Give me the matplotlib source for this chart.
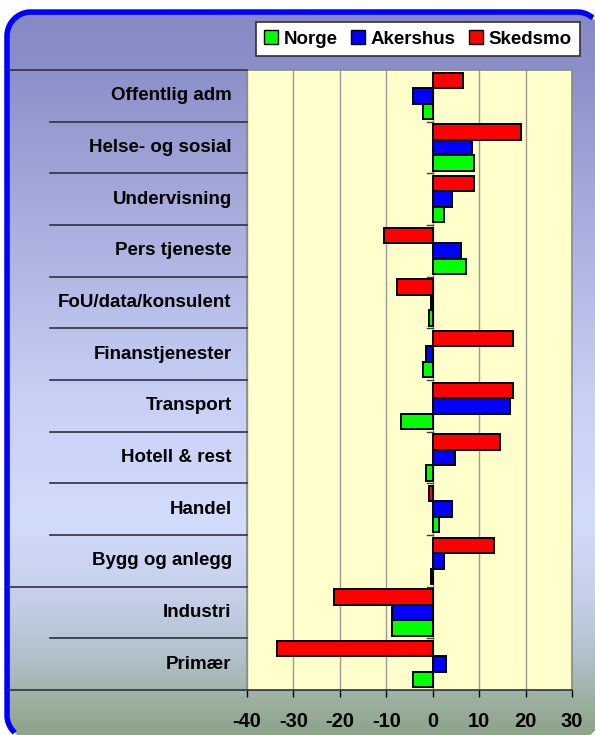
import numpy as np
import matplotlib
matplotlib.use("Agg")
import matplotlib.pyplot as plt
from matplotlib.patches import Patch
from matplotlib.lines import Line2D
from matplotlib.transforms import blended_transform_factory

# ---- data (top to bottom in chart) ----
categories = ["Offentlig adm", "Helse- og sosial", "Undervisning", "Pers tjeneste",
              "FoU/data/konsulent", "Finanstjenester", "Transport", "Hotell & rest",
              "Handel", "Bygg og anlegg", "Industri", "Primær"]
norge    = [-2.2, 8.8, 2.4, 7.1, -0.7, -2.2, -6.8, -1.4, 1.4, -0.4, -8.8, -4.2]
akershus = [-4.2, 8.5, 4.2, 6.0, -0.3, -1.4, 16.6, 4.9, 4.2, 2.4, -8.8, 2.8]
skedsmo  = [6.6, 19.0, 8.8, -10.6, -7.8, 17.2, 17.2, 14.4, -0.7, 13.1, -21.2, -33.6]
series_names = ["Norge", "Akershus", "Skedsmo"]
series_colors = ["#00FF00", "#0000FF", "#FF0000"]
x_ticks = [-40, -30, -20, -10, 0, 10, 20, 30]

plt.rcParams['font.family'] = ['Liberation Sans', 'DejaVu Sans']
plt.rcParams['font.weight'] = 'bold'

W, H = 595, 735
fig = plt.figure(figsize=(W / 100, H / 100), dpi=100)
fig.patch.set_facecolor("white")

# ---- background axes in pixel coordinates (y down) ----
bg = fig.add_axes([0, 0, 1, 1])
bg.axis("off")

stops_y = [0, 15, 70, 200, 400, 520, 600, 660, 700, 735]
stops_c = [(134, 137, 196), (134, 137, 196), (140, 144, 201), (165, 170, 219),
           (200, 208, 245), (210, 220, 252), (196, 207, 232), (176, 192, 200),
           (156, 176, 160), (140, 164, 136)]
ys = np.arange(H) + 0.5
xs = np.arange(W) + 0.5
grad = np.ones((H, W, 4))
for k in range(3):
    grad[:, :, k] = (np.interp(ys, stops_y, [c[k] for c in stops_c]) / 255.0)[:, None]

# rounded frame geometry (pixels); right and bottom edges lie just past the image
L, T, Rr, B, R = 7, 12, 601, 739, 24
X, Y = np.meshgrid(xs, ys)
cx = np.clip(X, L + R, Rr - R)
cy = np.clip(Y, T + R, B - R)
inside = (X >= L) & (X <= Rr) & (Y >= T) & (Y <= B) & ((X - cx) ** 2 + (Y - cy) ** 2 <= R ** 2)
grad[:, :, 3] = inside.astype(float)
bg.imshow(grad, extent=[0, W, H, 0], aspect="auto", zorder=1, interpolation="nearest")

def arc(cxx, cyy, t0, t1):
    t = np.radians(np.linspace(t0, t1, 60))
    return cxx + R * np.cos(t), cyy - R * np.sin(t)

parts = [arc(Rr - R, T + R, 0, 90), arc(L + R, T + R, 90, 180),
         arc(L + R, B - R, 180, 270), arc(Rr - R, B - R, 270, 360)]
px = np.concatenate([p[0] for p in parts])
py = np.concatenate([p[1] for p in parts])
out = (px > W - 2) | (py > H - 2)
px = np.where(out, np.nan, px)
py = np.where(out, np.nan, py)
bg.plot(px, py, color="#0000FF", linewidth=4, zorder=2, solid_joinstyle="round",
        solid_capstyle="butt")
bg.set_xlim(0, W)
bg.set_ylim(H, 0)

# ---- main axes ----
left, right, top, bottom = 247, 572, 70, 690
ax = fig.add_axes([left / W, 1 - bottom / H, (right - left) / W, (bottom - top) / H])
ax.set_facecolor("#FFFFCC")

n = len(categories)
pos = np.arange(n)[::-1]  # top category at highest y
bh = 0.30
ax.barh(pos - bh, norge, height=bh, color=series_colors[0], edgecolor="black", linewidth=1.4, zorder=3)
ax.barh(pos, akershus, height=bh, color=series_colors[1], edgecolor="black", linewidth=1.4, zorder=3)
ax.barh(pos + bh, skedsmo, height=bh, color=series_colors[2], edgecolor="black", linewidth=1.4, zorder=3)

ax.set_xlim(-40, 30)
ax.set_ylim(-0.5, n - 0.5)
ax.set_xticks(x_ticks)
ax.set_xticklabels([str(t) for t in x_ticks], fontsize=14.5, fontweight="bold")
ax.tick_params(axis="x", direction="out", length=5, width=1, color="black", pad=11)
ax.set_yticks(pos)
ax.set_yticklabels(categories, fontsize=13.5, fontweight="bold", va="center")
ax.tick_params(axis="y", length=0, pad=11)
ax.xaxis.grid(True, color="#9A9A9A", linewidth=1)
ax.set_axisbelow(True)
for s in ["top", "left", "right"]:
    ax.spines[s].set_color("#8A8A8A")
    ax.spines[s].set_linewidth(1.2)
ax.spines["bottom"].set_visible(False)

# separators in the label area
tr = blended_transform_factory(ax.transAxes, ax.transData)
x_full = (8 - left) / (right - left)
x_short = (50 - left) / (right - left)
bounds = np.arange(n + 1) - 0.5
for b in bounds:
    full = (b == n - 0.5) or (b == -0.5) or (b == 1.5)
    x0 = x_full if full else x_short
    x1 = 1.0 if b == -0.5 else 0.0
    ax.add_line(Line2D([x0, x1], [b, b], transform=tr, color="#303040",
                       linewidth=1.2, clip_on=False, zorder=5))
    if -0.5 < b < n - 0.5:
        ax.plot([-1.2, 0], [b, b], color="#404040", linewidth=1, zorder=4)

# ---- legend ----
handles = [Patch(facecolor=c, edgecolor="black", linewidth=1) for c in series_colors]
leg = fig.legend(handles, series_names, ncol=3, loc="center",
                 bbox_to_anchor=(418 / W, 1 - 39 / H), frameon=True, fancybox=False,
                 edgecolor="#303030", framealpha=1,
                 prop={"weight": "bold", "size": 13.5},
                 handlelength=0.75, handleheight=0.75, handletextpad=0.3,
                 columnspacing=0.7, borderpad=0.45)
leg.get_frame().set_linewidth(1.2)

fig.savefig("out.png", dpi=100, facecolor="white")
